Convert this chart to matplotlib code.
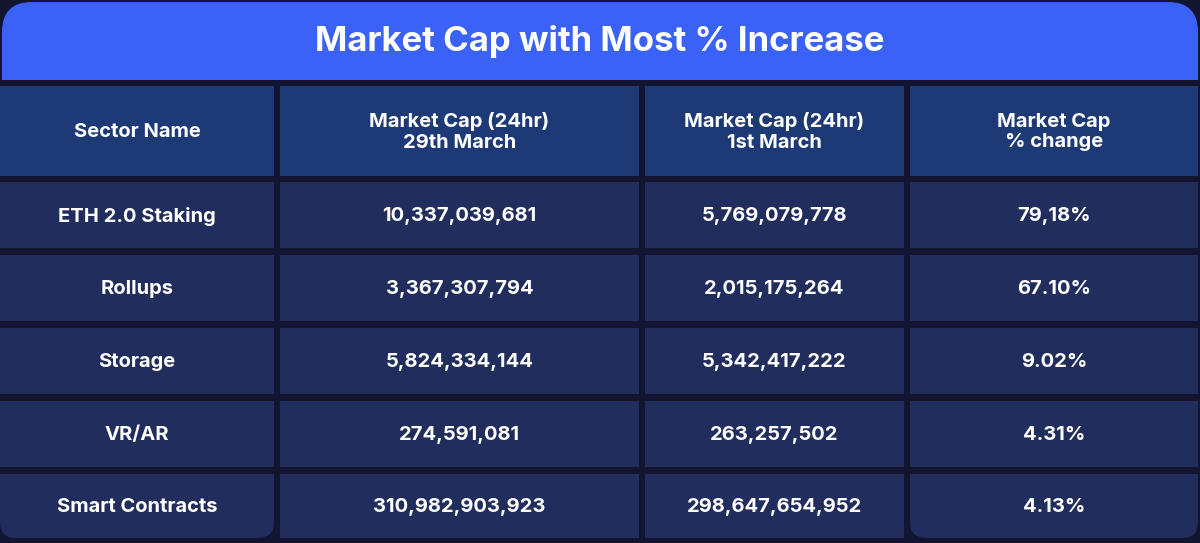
import matplotlib
matplotlib.use("Agg")
import matplotlib.pyplot as plt
from matplotlib.patches import Rectangle, FancyBboxPatch

title = "Market Cap with Most % Increase"
headers = ["Sector Name", "Market Cap (24hr)\n29th March", "Market Cap (24hr)\n1st March", "Market Cap\n% change"]
sectors = ["ETH 2.0 Staking", "Rollups", "Storage", "VR/AR", "Smart Contracts"]
cap_29 = ["10,337,039,681", "3,367,307,794", "5,824,334,144", "274,591,081", "310,982,903,923"]
cap_1 = ["5,769,079,778", "2,015,175,264", "5,342,417,222", "263,257,502", "298,647,654,952"]
pct = ["79,18%", "67.10%", "9.02%", "4.31%", "4.13%"]

plt.rcParams['font.family'] = ['Inter', 'DejaVu Sans']
fig = plt.figure(figsize=(12, 5.43), dpi=100)
fig.patch.set_facecolor("#131530")
ax = fig.add_axes([0, 0, 1, 1])
ax.set_xlim(0, 1200); ax.set_ylim(543, 0); ax.axis("off")

ax.add_patch(FancyBboxPatch((2, 2), 1196, 120, boxstyle="round,pad=0,rounding_size=30",
                            fc="#3A62F7", ec="none"))
ax.add_patch(Rectangle((0, 80), 1200, 50, fc="#131530", ec="none"))
ax.text(600, 42, title, color="white", fontsize=25, fontweight="bold", ha="center", va="center")

cols = [(0, 274), (280, 639), (645, 904), (910, 1198)]
header_y = (86, 176)
rows = [(182, 248), (255, 321), (328, 394), (401, 467), (474, 538)]

for (x0, x1), h in zip(cols, headers):
    ax.add_patch(Rectangle((x0, header_y[0]), x1 - x0, header_y[1] - header_y[0], fc="#1D3A77", ec="none"))
    ax.text((x0 + x1) / 2, sum(header_y) / 2 + 1, h, color="white", fontsize=14.5, fontweight="bold",
            ha="center", va="center", linespacing=1.15)

data = list(zip(sectors, cap_29, cap_1, pct))
for ri, ((y0, y1), vals) in enumerate(zip(rows, data)):
    for ci, ((x0, x1), v) in enumerate(zip(cols, vals)):
        last = ri == len(rows) - 1 and ci in (0, len(cols) - 1)
        if last:
            ax.add_patch(FancyBboxPatch((x0, y0 - 30), x1 - x0, y1 - y0 + 30,
                                        boxstyle="round,pad=0,rounding_size=16", fc="#212D5D", ec="none"))
            ax.add_patch(Rectangle((x0, y0 - 30), x1 - x0, 30, fc="#212D5D", ec="none"))
            ax.add_patch(Rectangle((x0, y0 - 7), x1 - x0, 7, fc="#131530", ec="none"))
        else:
            ax.add_patch(Rectangle((x0, y0), x1 - x0, y1 - y0, fc="#212D5D", ec="none"))
        ax.text((x0 + x1) / 2, (y0 + y1) / 2 + 1, v, color="white", fontsize=14.5, fontweight="bold",
                ha="center", va="center")

fig.savefig("out.png", dpi=100, facecolor=fig.get_facecolor())
